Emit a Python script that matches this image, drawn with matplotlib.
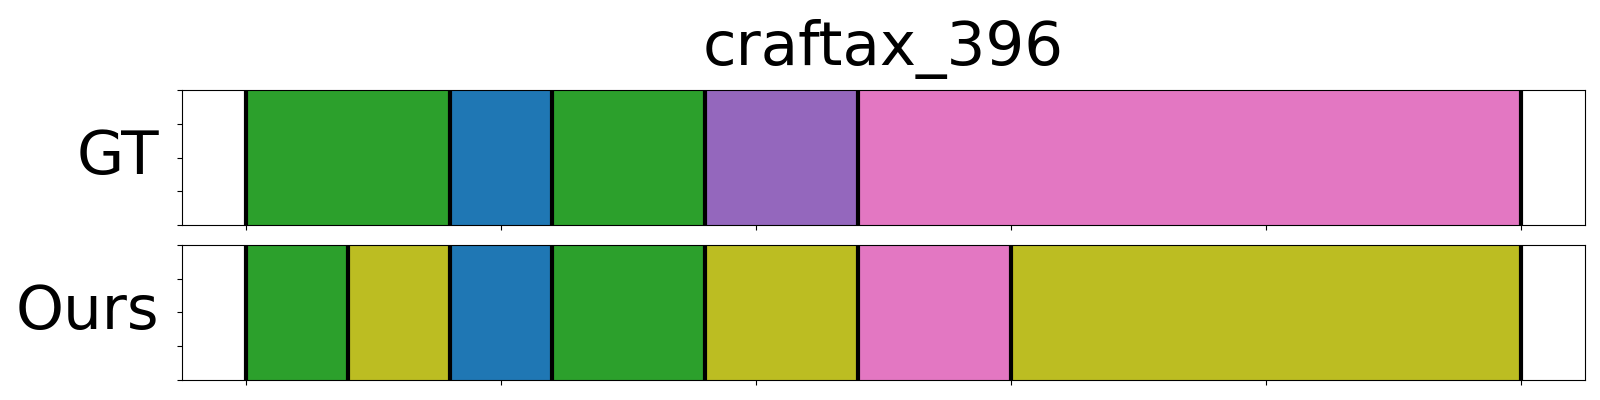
import matplotlib
matplotlib.use("Agg")
import matplotlib.pyplot as plt

# segment boundaries (frames) and the colour of each segment
gt_bounds = [0, 80, 120, 180, 240, 500]
gt_colors = ['tab:green', 'tab:blue', 'tab:green', 'tab:purple', 'tab:pink']

ours_bounds = [0, 40, 80, 120, 180, 240, 300, 500]
ours_colors = ['tab:green', 'tab:olive', 'tab:blue', 'tab:green',
               'tab:olive', 'tab:pink', 'tab:olive']

rows = [('GT', gt_bounds, gt_colors), ('Ours', ours_bounds, ours_colors)]

fig, axes = plt.subplots(2, 1, figsize=(16, 4), dpi=100, sharex=True)
fig.subplots_adjust(left=0.1136, right=0.9906, top=0.775, bottom=0.05, hspace=0.148)

for ax, (name, bounds, colors) in zip(axes, rows):
    for i, c in enumerate(colors):
        ax.axvspan(bounds[i], bounds[i + 1], color=c, lw=0)
    for b in bounds:
        ax.axvline(b, color='black', lw=3)
    ax.set_ylim(0, 1)
    ax.set_yticks([0, 0.25, 0.5, 0.75, 1.0])
    ax.set_yticklabels([])
    ax.set_xticks([0, 100, 200, 300, 400, 500])
    ax.tick_params(labelbottom=False)
    ax.set_ylabel(name, rotation=0, fontsize=44, ha='right', va='center', labelpad=9)

axes[0].margins(x=0.05)
axes[0].set_title('craftax_396', fontsize=44, pad=18)

fig.savefig('out.png')
